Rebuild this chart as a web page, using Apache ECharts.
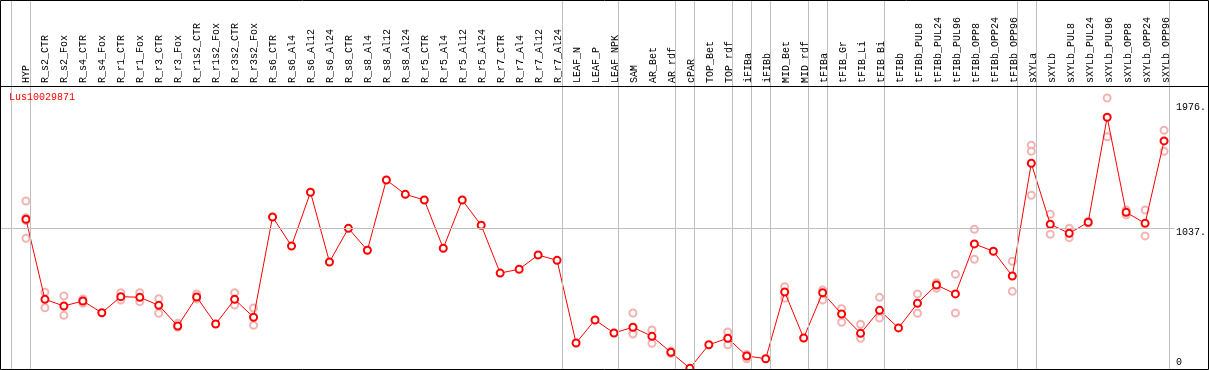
<!DOCTYPE html>
<html>
<head>
<meta charset="utf-8">
<script src="https://cdn.jsdelivr.net/npm/echarts@6/dist/echarts.min.js"></script>
<style>
html, body { margin: 0; padding: 0; background: #fff; }
#chart { width: 1209px; height: 370px; }
</style>
</head>
<body>
<div id="chart"></div>
<script>
const geneName = 'Lus10029871'

const categories = [
  'HYP', 'R_s2_CTR', 'R_s2_Fox', 'R_s4_CTR', 'R_s4_Fox', 'R_r1_CTR', 'R_r1_Fox',
  'R_r3_CTR', 'R_r3_Fox', 'R_r1s2_CTR', 'R_r1s2_Fox', 'R_r3s2_CTR', 'R_r3s2_Fox',
  'R_s6_CTR', 'R_s6_Al4', 'R_s6_Al12', 'R_s6_Al24', 'R_s8_CTR', 'R_s8_Al4', 'R_s8_Al12',
  'R_s8_Al24', 'R_r5_CTR', 'R_r5_Al4', 'R_r5_Al12', 'R_r5_Al24', 'R_r7_CTR', 'R_r7_Al4',
  'R_r7_Al12', 'R_r7_Al24', 'LEAF_N', 'LEAF_P', 'LEAF_NPK', 'SAM', 'AR_Bet', 'AR_rdf',
  'cPAR', 'TOP_Bet', 'TOP_rdf', 'iFIBa', 'iFIBb', 'MID_Bet', 'MID_rdf', 'tFIBa',
  'tFIB_Gr', 'tFIB_Li', 'tFIB_Bi', 'tFIBb', 'tFIBb_PUL8', 'tFIBb_PUL24', 'tFIBb_PUL96',
  'tFIBb_OPP8', 'tFIBb_OPP24', 'tFIBb_OPP96', 'sXYLa', 'sXYLb', 'sXYLb_PUL8',
  'sXYLb_PUL24', 'sXYLb_PUL96', 'sXYLb_OPP8', 'sXYLb_OPP24', 'sXYLb_OPP96'
]

// mean expression per sample
const means = [
  1105, 514, 465, 502, 415, 534, 529, 470, 317, 531, 332, 514, 382,
  1122, 908, 1304, 790, 1038, 876, 1395, 1289, 1247, 891, 1247, 1061, 708, 736, 841, 802,
  192, 362, 266, 308, 241, 123, 5, 179, 227, 96, 76, 568, 229, 563, 406, 263, 433, 303,
  485, 620, 554, 923, 869, 686, 1518, 1068, 1001, 1083, 1858, 1156, 1075, 1683
]

// single replicates (pale circles), one list per sample
const replicates = [
  [1240, 1117, 1095, 965], [566, 452], [539, 396], [517, 485], [], [563, 509], [563, 497],
  [519, 411], [337, 308], [554, 517], [], [563, 472], [450, 323],
  [], [], [], [], [], [], [], [], [], [], [], [], [], [], [], [],
  [], [], [], [413, 268, 258], [288, 190], [133, 114], [], [], [273, 179], [107, 76], [],
  [607, 522], [], [583, 509], [445, 345], [330, 227], [529, 376], [],
  [554, 411], [637, 596], [699, 413], [1031, 810], [], [795, 573], [1651, 1607, 1282],
  [1142, 994], [1038, 969], [1089, 1077], [2000, 1714], [1173, 1137], [1173, 982], [1762, 1607]
]

// index of first sample of each group (separator lines)
const groupStarts = [0, 1, 29, 32, 35, 36, 38, 39, 40, 42, 43, 46, 53, 54, 61]
const yTicks = [0, 1037, 1976]
const gridValue = 1037

const mono = 'Liberation Mono'
const xMin = -25 / 19
const xMax = 1182 / 19

let repData = []
replicates.forEach((list, i) => {
  list.forEach((v) => {
    repData.push([i, v])
  })
})
let meanData = means.map((v, i) => [i, v])

let sepLines = groupStarts.map((s) => ({ xAxis: s - 0.75 }))
sepLines.push([{ coord: [xMin, gridValue] }, { coord: [60.55, gridValue] }])

const myChart = echarts.init(document.getElementById('chart'))

myChart.setOption({
  animation: false,
  backgroundColor: '#fff',
  title: {
    text: geneName,
    left: 9,
    top: 92,
    padding: 0,
    textStyle: {
      color: '#ff0000',
      fontFamily: mono,
      fontWeight: 'normal',
      fontSize: 10,
    },
  },
  grid: [
    { left: 1, right: 1, top: 0, bottom: 1 },
    { left: 16.5, width: 1159, top: 86, bottom: 1 },
  ],
  xAxis: [
    { gridIndex: 0, type: 'value', min: xMin, max: xMax, show: false },
    {
      gridIndex: 1,
      type: 'category',
      data: categories,
      position: 'top',
      boundaryGap: true,
      axisLine: { show: false },
      axisTick: { show: false },
      splitLine: { show: false },
      axisLabel: {
        rotate: 90,
        interval: 0,
        margin: 3,
        color: '#000',
        fontFamily: mono,
        fontSize: 10,
      },
    },
  ],
  yAxis: [
    {
      gridIndex: 0,
      type: 'value',
      min: 0,
      max: 2723,
      position: 'right',
      axisLine: { show: false },
      axisTick: { show: false },
      splitLine: { show: false },
      axisLabel: {
        inside: true,
        margin: 30,
        align: 'left',
        customValues: yTicks,
        formatter: function (v) {
          if (v === yTicks[0]) return '{z|' + v + '}'
          if (v === yTicks[yTicks.length - 1]) return '{t|' + v + '.}'
          return '{m|' + v + '.}'
        },
        rich: {
          z: { fontFamily: mono, fontSize: 10, color: '#000', padding: [0, 0, 14, 0] },
          m: { fontFamily: mono, fontSize: 10, color: '#000', padding: [8, 0, 0, 0] },
          t: { fontFamily: mono, fontSize: 10, color: '#000', padding: [12, 0, 0, 0] },
        },
      },
    },
    { gridIndex: 1, type: 'value', show: false },
  ],
  graphic: [
    {
      type: 'rect',
      z: 100,
      shape: { x: 0.5, y: 0.5, width: 1208, height: 369 },
      style: { fill: null, stroke: '#000', lineWidth: 1 },
    },
    {
      type: 'line',
      z: 100,
      shape: { x1: 0, y1: 86.5, x2: 1209, y2: 86.5 },
      style: { stroke: '#000', lineWidth: 1 },
    },
  ],
  series: [
    {
      name: 'replicates',
      type: 'scatter',
      xAxisIndex: 0,
      yAxisIndex: 0,
      symbol: 'emptyCircle',
      symbolSize: 7,
      itemStyle: { color: '#f0a0a0', borderColor: '#f0a0a0', borderWidth: 1.3 },
      data: repData,
      z: 2,
      markLine: {
        silent: true,
        symbol: 'none',
        label: { show: false },
        lineStyle: { color: '#c0c0c0', width: 1, type: 'solid' },
        data: sepLines,
      },
    },
    {
      name: 'mean',
      type: 'line',
      xAxisIndex: 0,
      yAxisIndex: 0,
      symbol: 'emptyCircle',
      symbolSize: 7,
      lineStyle: { color: '#ff0000', width: 1 },
      itemStyle: { color: '#ff0000', borderColor: '#ff0000', borderWidth: 1.5 },
      data: meanData,
      z: 3,
    },
  ],
})
</script>
</body>
</html>
